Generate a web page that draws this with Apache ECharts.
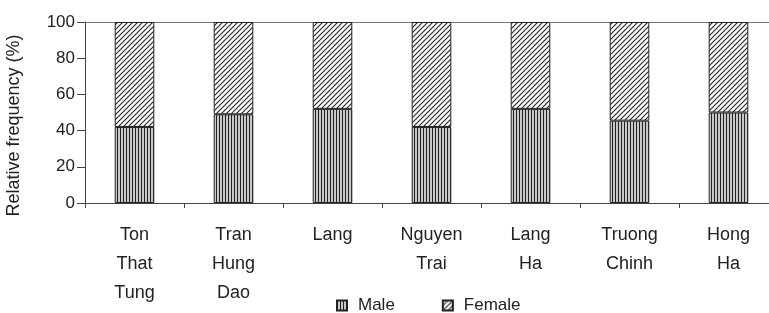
<!DOCTYPE html>
<html>
<head>
<meta charset="utf-8">
<script src="https://cdn.jsdelivr.net/npm/echarts@6/dist/echarts.min.js"></script>
<style>
  html, body { margin: 0; padding: 0; background: #fff; }
  #chart { width: 769px; height: 313px; }
</style>
</head>
<body>
<div id="chart"></div>
<script>
// categories (hospital names)
var categories = ['Ton\nThat\nTung', 'Tran\nHung\nDao', 'Lang', 'Nguyen\nTrai', 'Lang\nHa', 'Truong\nChinh', 'Hong\nHa'];
// relative frequency (%)
var maleValues = [42, 49, 52, 42, 52, 45.5, 50];
var femaleValues = [58, 51, 48, 58, 48, 54.5, 50];
var yTicks = [0, 20, 40, 60, 80, 100];

// hatch patterns
function verticalPattern() {
    var c = document.createElement('canvas');
    c.width = 3; c.height = 4;
    var ctx = c.getContext('2d');
    ctx.fillStyle = '#c8c8c8';
    ctx.fillRect(0, 0, 3, 4);
    ctx.fillStyle = '#222';
    ctx.fillRect(0, 0, 1, 4);
    return c;
}
function diagonalPattern() {
    var c = document.createElement('canvas');
    c.width = 5; c.height = 5;
    var ctx = c.getContext('2d');
    ctx.fillStyle = '#fff';
    ctx.fillRect(0, 0, 5, 5);
    ctx.strokeStyle = '#222';
    ctx.lineWidth = 1.1;
    ctx.beginPath();
    ctx.moveTo(-1, 6); ctx.lineTo(6, -1);
    ctx.moveTo(-1, 1); ctx.lineTo(1, -1);
    ctx.moveTo(4, 6); ctx.lineTo(6, 4);
    ctx.stroke();
    return c;
}

var chart = echarts.init(document.getElementById('chart'));
var font = 'Liberation Sans, Arial, sans-serif';

var option = {
    backgroundColor: '#fff',
    animation: false,
    textStyle: { fontFamily: font },
    grid: { left: 85, top: 22, width: 693, bottom: 110, containLabel: false, outerBoundsMode: 'none' },
    legend: {
        left: 331, top: 292,
        icon: 'rect',
        itemWidth: 10, itemHeight: 10, itemGap: 47,
        textStyle: { fontSize: 17, color: '#222', fontFamily: font, padding: [0, 0, 0, 6] },
        data: ['Male', 'Female']
    },
    xAxis: [{
        type: 'category',
        data: categories,
        axisLine: { lineStyle: { color: '#444', width: 1 } },
        axisTick: { show: true, length: 5, lineStyle: { color: '#444' } },
        axisLabel: {
            color: '#222', fontSize: 18, fontFamily: font,
            lineHeight: 29, margin: 18, interval: 0
        }
    }, {
        type: 'category',
        position: 'top',
        data: categories,
        axisLine: { show: true, lineStyle: { color: '#777', width: 1 } },
        axisTick: { show: false },
        axisLabel: { show: false }
    }],
    yAxis: {
        type: 'value',
        min: 0, max: 100, interval: 20,
        name: 'Relative frequency (%)',
        nameLocation: 'middle',
        nameGap: 62,
        nameTextStyle: { fontSize: 18, color: '#222', fontFamily: font, padding: [0, 26, 0, 0] },
        axisLine: { show: true, lineStyle: { color: '#444', width: 1 } },
        axisTick: { show: true, length: 8, lineStyle: { color: '#444' } },
        axisLabel: {
            color: '#222', fontSize: 17, fontFamily: font, margin: 10,
            formatter: function (v) { return yTicks.indexOf(v) >= 0 ? v : ''; }
        },
        splitLine: { show: false }
    },
    series: [{
        name: 'Male',
        type: 'bar',
        stack: 'total',
        barWidth: '40%',
        data: maleValues,
        itemStyle: {
            color: { image: verticalPattern(), repeat: 'repeat' },
            borderColor: '#222', borderWidth: 1
        }
    }, {
        name: 'Female',
        type: 'bar',
        stack: 'total',
        barWidth: '40%',
        data: femaleValues,
        itemStyle: {
            color: { image: diagonalPattern(), repeat: 'repeat' },
            borderColor: '#222', borderWidth: 1
        }
    }]
};

chart.setOption(option);
</script>
</body>
</html>
